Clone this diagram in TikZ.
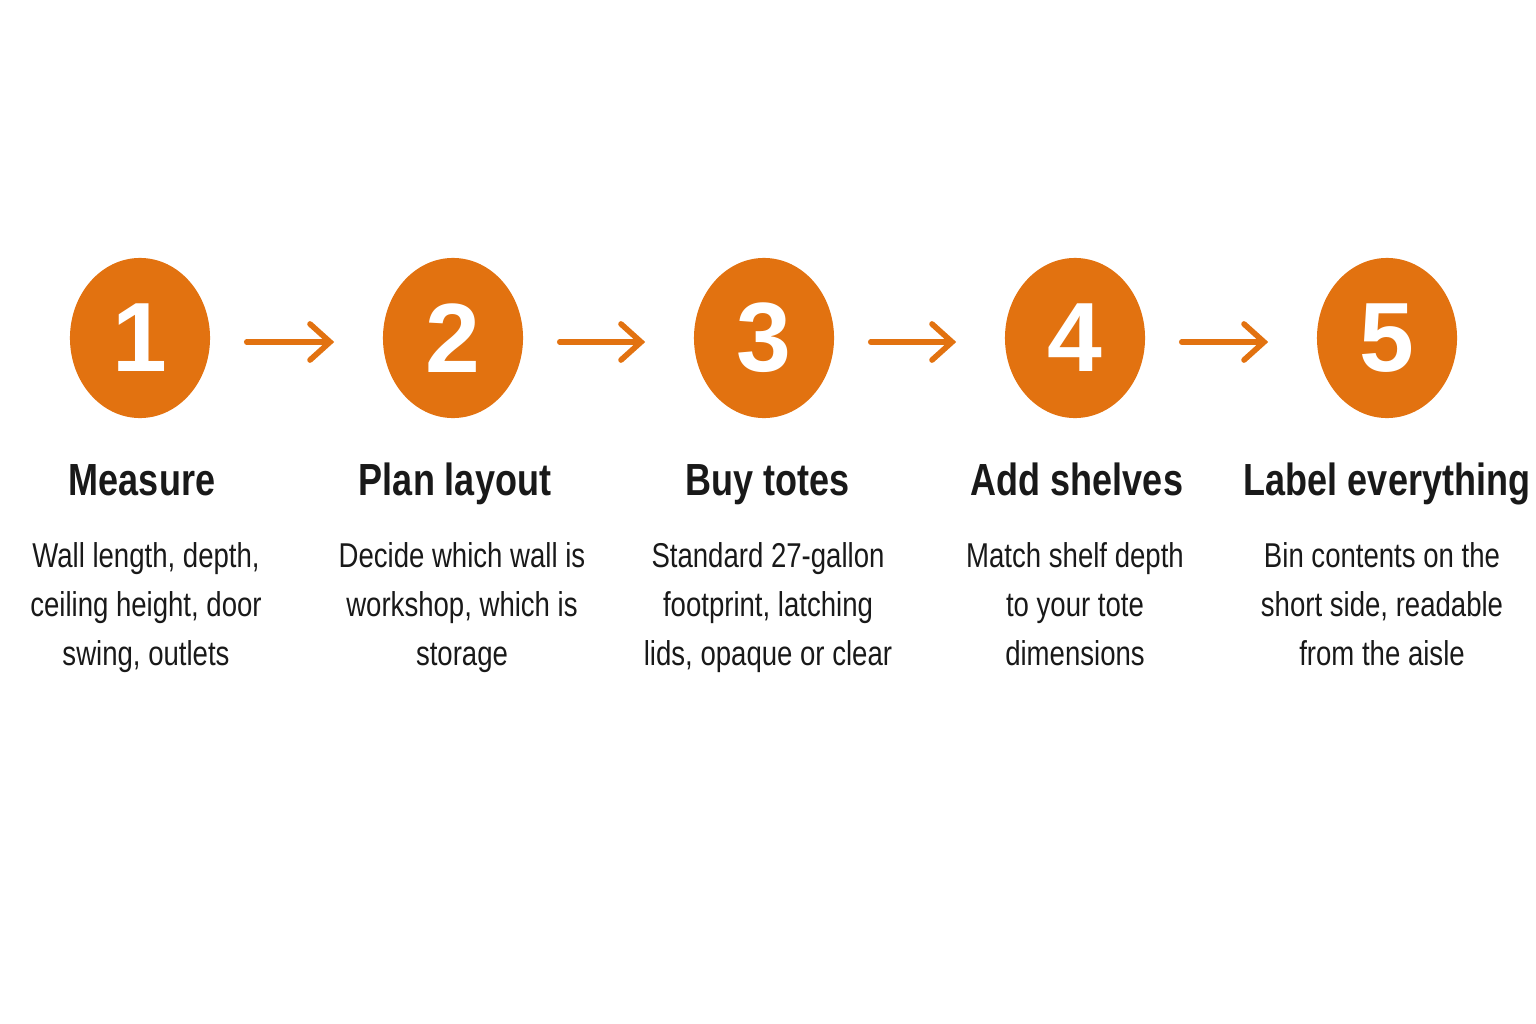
\documentclass[tikz,border=0pt]{standalone}
\usepackage{fontspec}
\setmainfont{Liberation Sans}[FakeStretch=0.8]
\newfontfamily\digitfont{Liberation Sans}
\usetikzlibrary{arrows.meta,positioning,shapes.geometric}
\definecolor{stepor}{RGB}{226,114,16}
\begin{document}
\begin{tikzpicture}[x=0.01cm,y=-0.01cm,
  stepdot/.style={ellipse,fill=stepor,minimum width=1.4cm,minimum height=1.6cm,inner sep=0pt,
    text=white,font=\digitfont\fontsize{28}{28}\selectfont\bfseries},
  steptitle/.style={anchor=base,font=\fontsize{12.8}{15}\selectfont\bfseries,text=black!90},
  stepnote/.style={anchor=north,align=center,font=\fontsize{9.8}{13.9}\selectfont,text=black!90},
  flow/.style={draw=stepor,line width=1.6pt,line cap=round,
    -{Straight Barb[length=2mm,width=3.6mm,line width=1.6pt,line cap=round]}}]
\useasboundingbox (0,0) rectangle (1536,1024);
% steps
\node[stepdot] (d1) at (140,338) {1};
\node[stepdot] (d2) at (453,338) {2};
\node[stepdot] (d3) at (764,338) {3};
\node[stepdot] (d4) at (1075,338) {4};
\node[stepdot] (d5) at (1387,338) {5};
% titles
\node[steptitle] (t1) at (142,495) {Measure};
\node[steptitle] (t2) at (455,495) {Plan layout};
\node[steptitle] (t3) at (768,495) {Buy totes};
\node[steptitle] (t4) at (1077,495) {Add shelves};
\node[steptitle] (t5) at (1387,495) {Label everything};
% notes
\node[stepnote] (n1) at (146,530) {Wall length, depth,\\ceiling height, door\\swing, outlets};
\node[stepnote] (n2) at (462,530) {Decide which wall is\\workshop, which is\\storage};
\node[stepnote] (n3) at (768,530) {Standard 27-gallon\\footprint, latching\\lids, opaque or clear};
\node[stepnote] (n4) at (1075,530) {Match shelf depth\\to your tote\\dimensions};
\node[stepnote] (n5) at (1382,530) {Bin contents on the\\short side, readable\\from the aisle};
% arrows
\foreach \a/\b in {d1/d2,d2/d3,d3/d4,d4/d5}
  \draw[flow,shorten <=0.36cm,shorten >=0.48cm] ([yshift=-0.04cm]\a.east) -- ([yshift=-0.04cm]\b.west);
\end{tikzpicture}
\end{document}
